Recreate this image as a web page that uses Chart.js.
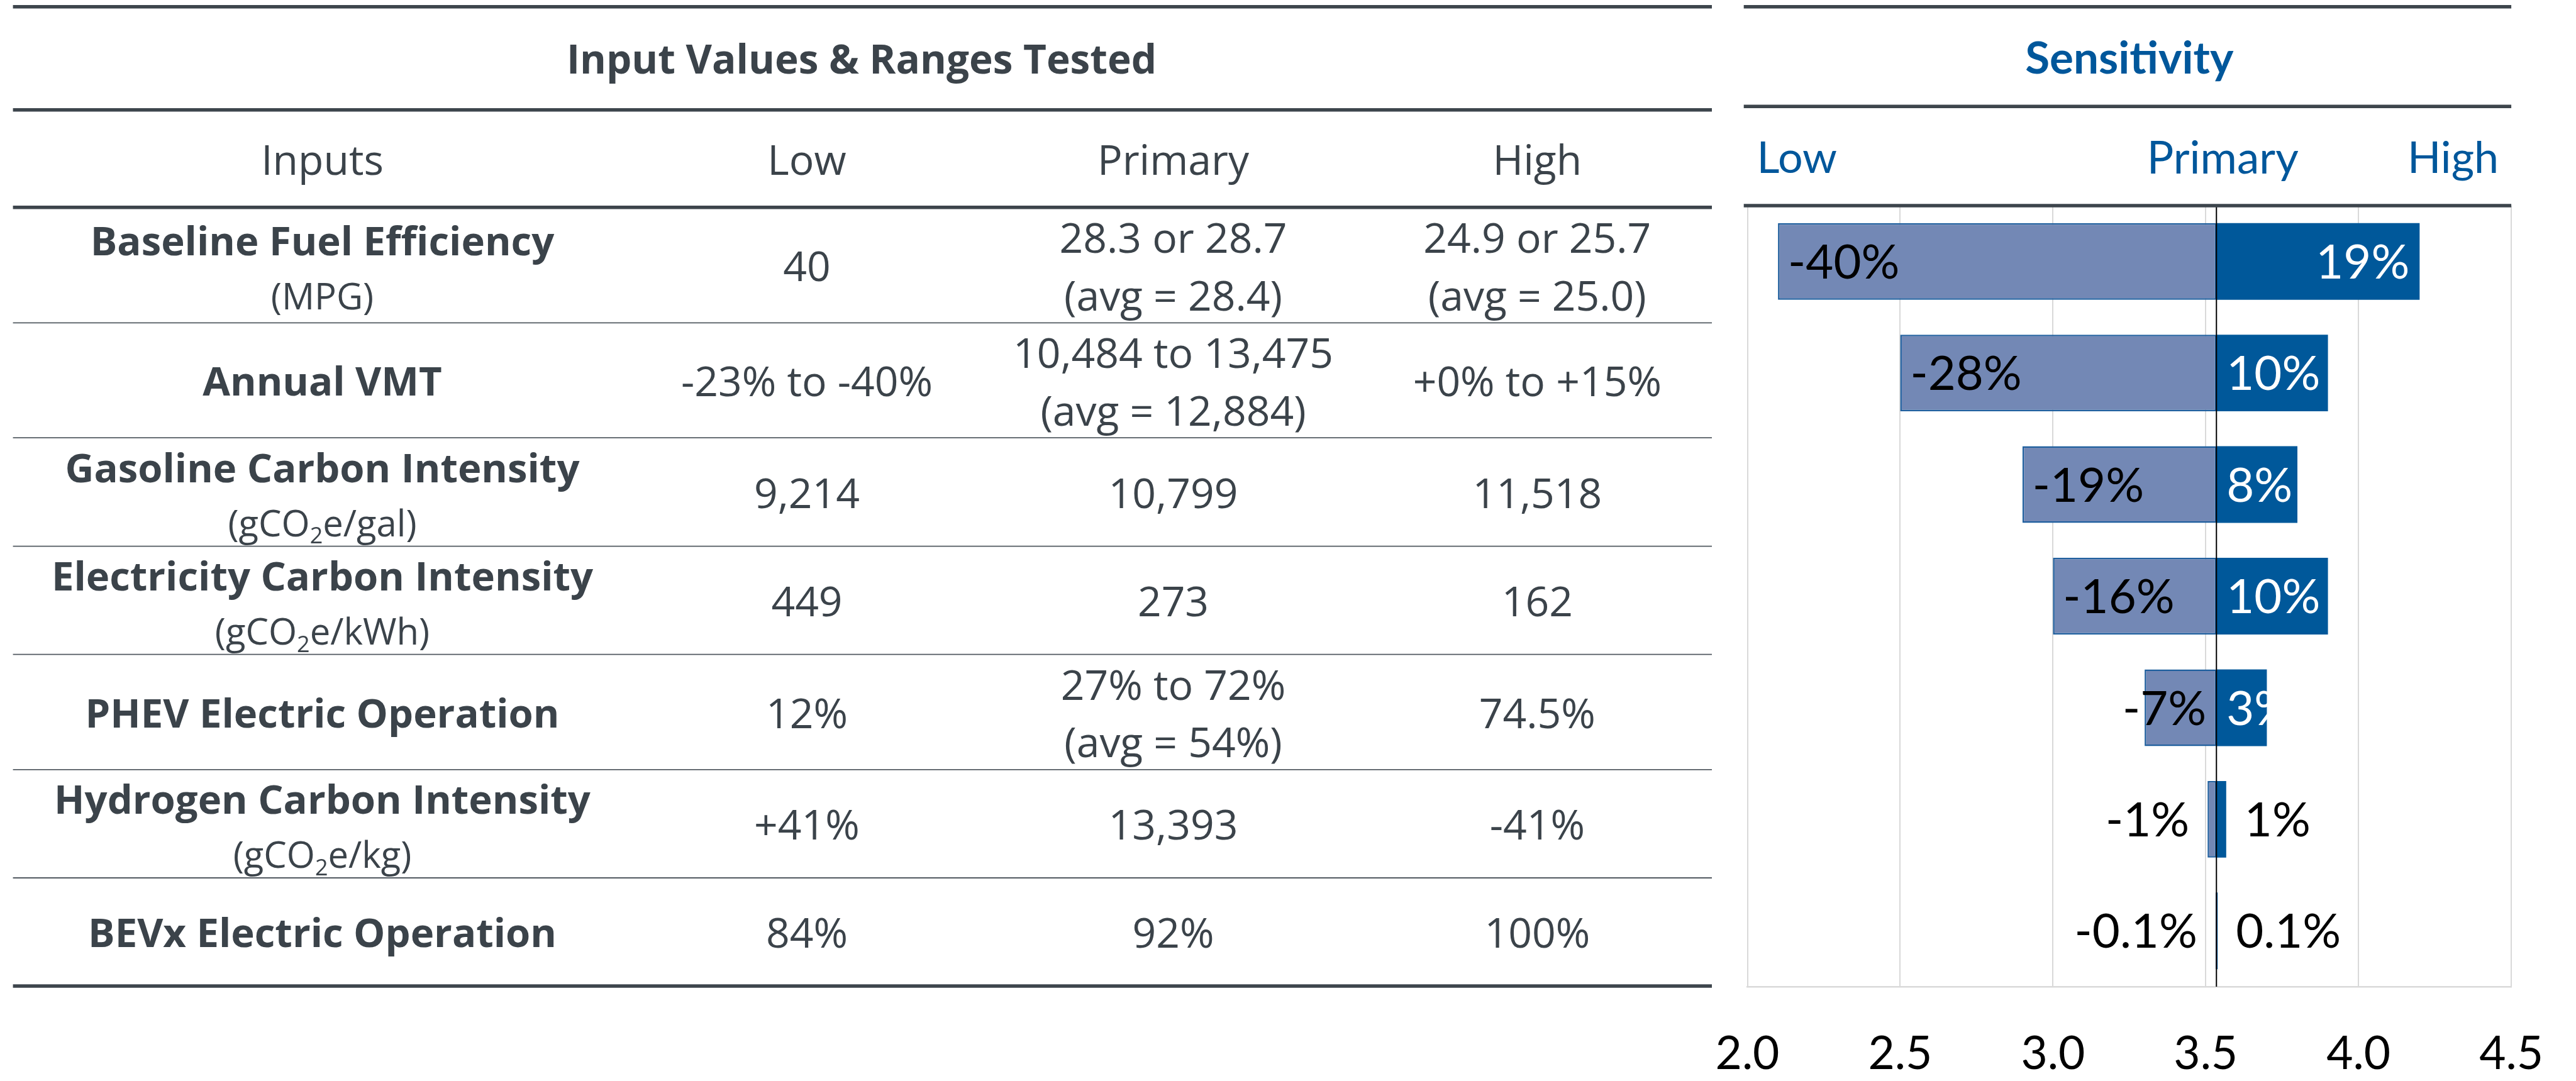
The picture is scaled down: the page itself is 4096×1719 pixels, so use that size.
<!DOCTYPE html>
<html>
<head>
<meta charset="utf-8">
<title>Input Values &amp; Sensitivity</title>
<script src="https://cdn.jsdelivr.net/npm/chart.js@4.4.1/dist/chart.umd.min.js"></script>
<style>
  html, body { margin: 0; padding: 0; background: #fff; }
  canvas { display: block; }
</style>
</head>
<body>
<canvas id="tornado" width="4096" height="1719"></canvas>
<script>
// --- table rows ---
const inputNames = [
  "Baseline Fuel Efficiency",
  "Annual VMT",
  "Gasoline Carbon Intensity",
  "Electricity Carbon Intensity",
  "PHEV Electric Operation",
  "Hydrogen Carbon Intensity",
  "BEVx Electric Operation"
];
const inputUnits = ["(MPG)", "", "(gCO₂e/gal)", "(gCO₂e/kWh)", "", "(gCO₂e/kg)", ""];
const lowInputs = ["40", "-23% to -40%", "9,214", "449", "12%", "+41%", "84%"];
const primaryInputs = [
  "28.3 or 28.7\n(avg = 28.4)",
  "10,484 to 13,475\n(avg = 12,884)",
  "10,799",
  "273",
  "27% to 72%\n(avg = 54%)",
  "13,393",
  "92%"
];
const highInputs = ["24.9 or 25.7\n(avg = 25.0)", "+0% to +15%", "11,518", "162", "74.5%", "-41%", "100%"];

// --- tornado series ---
const primaryResult = 3.535;
const lowEnds  = [2.10, 2.50, 2.90, 3.00, 3.30, 3.506, 3.532];
const highEnds = [4.20, 3.90, 3.80, 3.90, 3.70, 3.567, 3.539];
const lowPct  = [-40, -28, -19, -16, -7, -1, -0.1];
const highPct = [19, 10, 8, 10, 3, 1, 0.1];
const axisMin = 2.0, axisMax = 4.5, axisStep = 0.5;

// --- look ---
const ink = "#3b434a";
const ruleDark = "#3d454c";
const ruleThin = "#525a61";
const blue = "#00579b";
const CAP = 0.715;

const tableLeft = 20.6, tableRight = 2722;
const sensLeft = 2772.7;
const rowEdges = [329.7, 513.4, 696.2, 868.6, 1040.7, 1223.9, 1396, 1568];
const colX = [512.5, 1283, 1865.5, 2444.3];

function hline(ctx, x1, x2, y, w, color) {
  ctx.save();
  ctx.strokeStyle = color;
  ctx.lineWidth = w;
  ctx.beginPath();
  ctx.moveTo(x1, y);
  ctx.lineTo(x2, y);
  ctx.stroke();
  ctx.restore();
}

// draws a line of text whose capitals are centred on capMid; "₂" becomes a lowered small 2
function say(ctx, str, x, capMid, family, weight, size, color, align) {
  ctx.save();
  ctx.fillStyle = color;
  ctx.textBaseline = "alphabetic";
  const base = capMid + size * CAP / 2;
  const main = `${weight} ${size}px "${family}"`;
  const sub = `${weight} ${Math.round(size * 0.62)}px "${family}"`;
  const parts = str.split("₂");
  ctx.font = sub;
  const subW = ctx.measureText("2").width;
  ctx.font = main;
  let total = parts.reduce((s, p) => s + ctx.measureText(p).width, 0) + subW * (parts.length - 1);
  let cx = align === "center" ? x - total / 2 : align === "right" ? x - total : x;
  ctx.textAlign = "left";
  parts.forEach((p, i) => {
    ctx.font = main;
    ctx.fillText(p, cx, base);
    cx += ctx.measureText(p).width;
    if (i < parts.length - 1) {
      ctx.font = sub;
      ctx.fillText("2", cx, base + size * 0.2);
      cx += subW;
    }
  });
  ctx.restore();
}

const tablePlugin = {
  id: "inputTable",
  afterDraw(chart) {
    const ctx = chart.ctx;
    const area = chart.chartArea;

    // rules of the left table
    hline(ctx, tableLeft, tableRight, 10.75, 5.4, ruleDark);
    hline(ctx, tableLeft, tableRight, 174.7, 5.4, ruleDark);
    hline(ctx, tableLeft, tableRight, rowEdges[0], 5.4, ruleDark);
    for (let i = 1; i < rowEdges.length - 1; i++) {
      hline(ctx, tableLeft, tableRight, rowEdges[i], 1.8, ruleThin);
    }
    hline(ctx, tableLeft, tableRight, rowEdges[rowEdges.length - 1], 5.4, ruleDark);

    // rules above the tornado
    hline(ctx, sensLeft, area.right, 10.75, 5.4, ruleDark);
    hline(ctx, sensLeft, area.right, 169.3, 5.4, ruleDark);
    hline(ctx, sensLeft, area.right, area.top, 5.4, ruleDark);

    say(ctx, "Input Values & Ranges Tested", 1370, 94, "Open Sans", "bold", 63.8, ink, "center");
    ["Inputs", "Low", "Primary", "High"].forEach((h, c) => {
      say(ctx, h, colX[c], 254, "Open Sans", "normal", 66, ink, "center");
    });

    say(ctx, "Sensitivity", (area.left + area.right) / 2, 91.7, "Lato", "bold", 71, blue, "center");
    const xs = chart.scales.x;
    say(ctx, "Low", area.left + 15, 250.3, "Lato", "normal", 70, blue, "left");
    say(ctx, "Primary", xs.getPixelForValue(primaryResult) + 10, 250.3, "Lato", "normal", 71, blue, "center");
    say(ctx, "High", area.right - 20, 250.3, "Lato", "normal", 70, blue, "right");

    inputNames.forEach((name, i) => {
      const mid = (rowEdges[i] + rowEdges[i + 1]) / 2;
      if (inputUnits[i]) {
        say(ctx, name, colX[0], mid - 38.5, "Open Sans", "bold", 63.4, ink, "center");
        say(ctx, inputUnits[i], colX[0], mid + 49.7, "Open Sans", "normal", 58, ink, "center");
      } else {
        say(ctx, name, colX[0], mid + 1.8, "Open Sans", "bold", 63.4, ink, "center");
      }
      [lowInputs, primaryInputs, highInputs].forEach((col, c) => {
        const lines = col[i].split("\n");
        if (lines.length === 2) {
          say(ctx, lines[0], colX[c + 1], mid - 43, "Open Sans", "normal", 66, ink, "center");
          say(ctx, lines[1], colX[c + 1], mid + 48.4, "Open Sans", "normal", 66, ink, "center");
        } else {
          say(ctx, lines[0], colX[c + 1], mid + 1.8, "Open Sans", "normal", 66, ink, "center");
        }
      });
    });
  }
};

const PAD = 16, GAP = 29, LABEL_SIZE = 76;

const barLabels = {
  id: "barLabels",
  afterDatasetsDraw(chart) {
    const ctx = chart.ctx;
    const area = chart.chartArea;
    const xs = chart.scales.x;
    const cx = xs.getPixelForValue(primaryResult);

    // primary result line
    ctx.save();
    ctx.strokeStyle = "#000";
    ctx.lineWidth = 2;
    ctx.beginPath();
    ctx.moveTo(cx, area.top);
    ctx.lineTo(cx, area.bottom);
    ctx.stroke();
    ctx.restore();

    const bars = chart.getDatasetMeta(0).data;
    ctx.save();
    ctx.font = `${LABEL_SIZE}px "Lato"`;
    ctx.textBaseline = "alphabetic";
    bars.forEach((bar, i) => {
      const base = bar.y + LABEL_SIZE * CAP / 2;

      const lt = lowPct[i] + "%";
      const lx = xs.getPixelForValue(lowEnds[i]);
      const lw = ctx.measureText(lt).width;
      const lBar = cx - lx;
      ctx.fillStyle = "#000";
      if (lBar >= lw + 2 * PAD) {
        ctx.textAlign = "left";
        ctx.fillText(lt, lx + PAD, base);
      } else if (lBar >= 40) {
        ctx.textAlign = "right";
        ctx.fillText(lt, cx - PAD, base);
      } else {
        ctx.textAlign = "right";
        ctx.fillText(lt, lx - GAP, base);
      }

      const ht = highPct[i] + "%";
      const hx = xs.getPixelForValue(highEnds[i]);
      const hw = ctx.measureText(ht).width;
      const hBar = hx - cx;
      if (hBar >= hw + 2 * PAD) {
        ctx.fillStyle = "#fff";
        ctx.textAlign = "right";
        ctx.fillText(ht, hx - PAD, base);
      } else if (hBar >= 40) {
        ctx.fillStyle = "#fff";
        ctx.textAlign = "left";
        ctx.fillText(ht, cx + PAD, base);
      } else {
        ctx.fillStyle = "#000";
        ctx.textAlign = "left";
        ctx.fillText(ht, hx + GAP, base);
      }
    });
    ctx.restore();
  }
};

new Chart(document.getElementById("tornado"), {
  type: "bar",
  data: {
    labels: inputNames,
    datasets: [
      {
        label: "Low",
        data: inputNames.map((_, i) => [lowEnds[i], primaryResult]),
        backgroundColor: "#7388b5",
        borderColor: "#1f5f9e",
        borderWidth: 2.5,
        borderSkipped: false,
        grouped: false,
        barPercentage: 0.687,
        categoryPercentage: 1
      },
      {
        label: "High",
        data: inputNames.map((_, i) => [primaryResult, highEnds[i]]),
        backgroundColor: "#00589a",
        borderWidth: 0,
        grouped: false,
        barPercentage: 0.687,
        categoryPercentage: 1
      }
    ]
  },
  options: {
    indexAxis: "y",
    responsive: false,
    animation: false,
    devicePixelRatio: 1,
    layout: { padding: { left: 2778.5, right: 102.9, top: 327, bottom: 0 } },
    plugins: { legend: { display: false }, tooltip: { enabled: false } },
    scales: {
      x: {
        min: axisMin,
        max: axisMax,
        ticks: {
          stepSize: axisStep,
          callback: v => Number(v).toFixed(1),
          font: { family: "Lato", size: 73 },
          color: "#000",
          padding: 0
        },
        // invisible tick marks push the labels down without widening the side padding
        grid: { color: "#d9d9d9", lineWidth: 2, drawTicks: true, tickLength: 64, tickColor: "rgba(0,0,0,0)" },
        border: { color: "#d9d9d9", width: 2.5 },
        afterFit: s => { s.height = 150; }
      },
      y: { display: false }
    }
  },
  plugins: [barLabels, tablePlugin]
});
</script>
</body>
</html>
